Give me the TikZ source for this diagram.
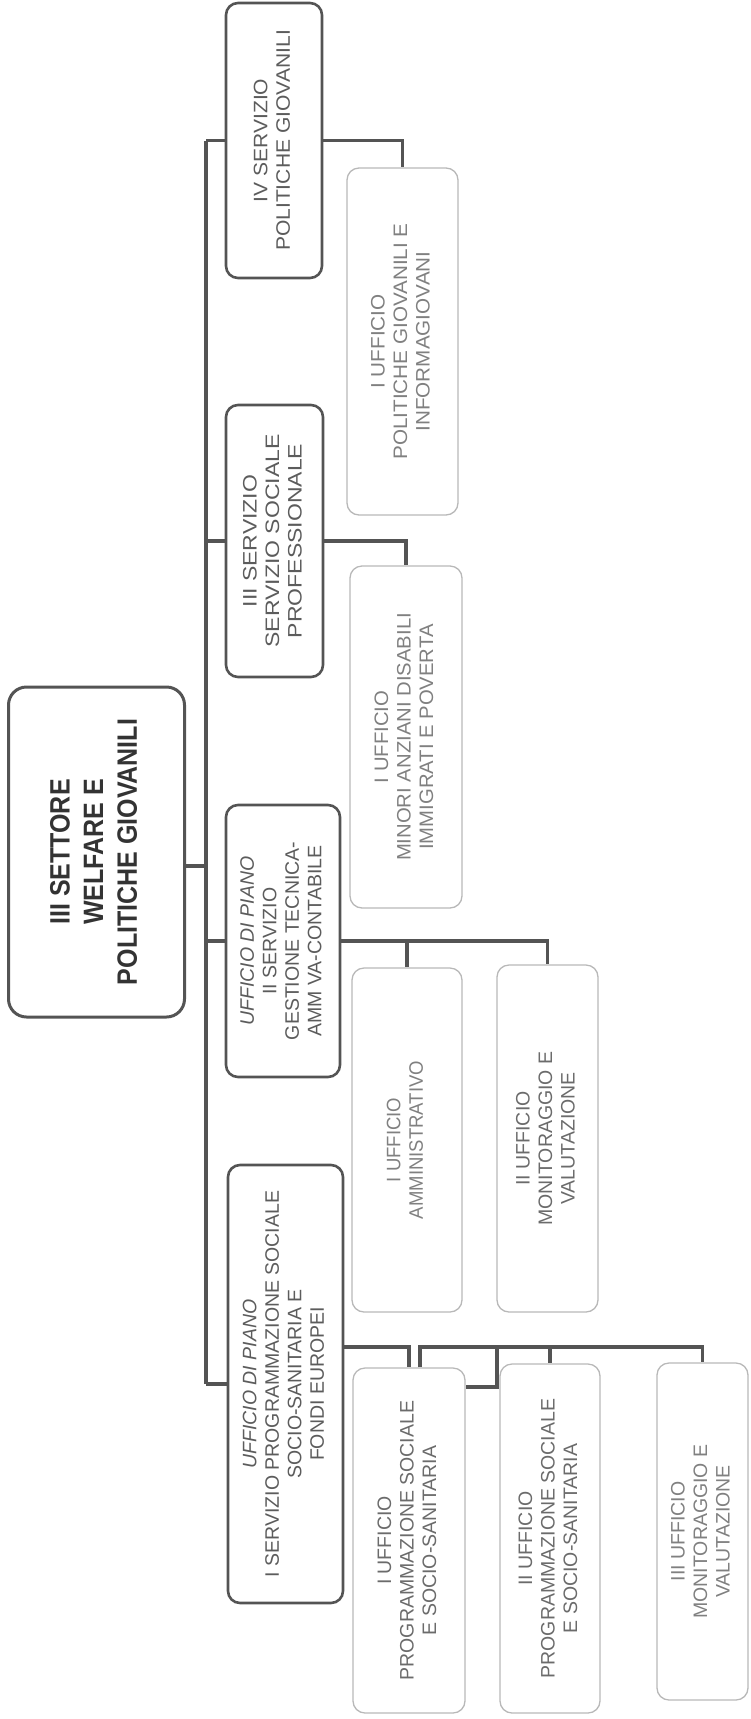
\documentclass[tikz,border=0pt]{standalone}
\usepackage{fontspec}
\setmainfont{Liberation Sans}
\usepackage{graphicx}

% text set bottom-to-top inside an upright box; optional argument stretches the lines
\newcommand\vtext[2][1]{\rotatebox{90}{\scalebox{#1}[1]{\begin{tabular}{@{}c@{}}#2\end{tabular}}}}
% heading text, a little taller across the lines
\newcommand\headtext[1]{\rotatebox{90}{\scalebox{1}[1.12]{\begin{tabular}{@{}c@{}}#1\end{tabular}}}}

\definecolor{linedark}{gray}{0.33}
\definecolor{boxlight}{gray}{0.72}
\definecolor{txtdark}{gray}{0.2}
\definecolor{txtmid}{gray}{0.36}
\definecolor{txtsoft}{gray}{0.42}
\definecolor{txtlight}{gray}{0.5}

\tikzset{
  boxsize/.style 2 args={minimum width=#1pt, minimum height=#2pt},
  rootbox/.style={draw=linedark, line width=3pt, rounded corners=18pt, inner sep=0pt,
    text=txtdark, font=\fontsize{25}{30}\selectfont\bfseries},
  servbox/.style={draw=linedark, line width=2.6pt, rounded corners=12pt, inner sep=0pt,
    text=txtmid, font=\fontsize{19.5}{22.5}\selectfont},
  uffbox/.style={draw=boxlight, line width=1.3pt, rounded corners=12pt, inner sep=0pt,
    text=txtsoft, font=\fontsize{19.5}{22.5}\selectfont},
  link/.style={draw=linedark, line width=3.4pt},
}

\begin{document}
\begin{tikzpicture}[x=1pt, y=-1pt]
  \useasboundingbox (0,0) rectangle (751,1719);

  % sector
  \node[rootbox, boxsize={176}{330}] (root) at (96.5,852)
    {\headtext{III SETTORE\\WELFARE E\\POLITICHE GIOVANILI}};

  % services
  \node[servbox, boxsize={96}{275}] (s4) at (274,140.5)
    {\vtext[1.08]{IV SERVIZIO\\POLITICHE GIOVANILI}};
  \node[servbox, boxsize={97}{272}] (s3) at (274.5,541)
    {\vtext[1.18]{III SERVIZIO\\SERVIZIO SOCIALE\\PROFESSIONALE}};
  \node[servbox, boxsize={114}{272}] (s2) at (283,941)
    {\vtext{\textit{UFFICIO DI PIANO}\\II SERVIZIO\\GESTIONE TECNICA-\\AMM VA-CONTABILE}};
  \node[servbox, boxsize={115}{438}] (s1) at (285.5,1384)
    {\vtext{\textit{UFFICIO DI PIANO}\\I SERVIZIO PROGRAMMAZIONE SOCIALE\\SOCIO-SANITARIA E\\FONDI EUROPEI}};

  % offices
  \node[uffbox, boxsize={111}{347}, text=txtlight] (u4a) at (402.5,341.5)
    {\vtext[1.06]{I UFFICIO\\POLITICHE GIOVANILI E\\INFORMAGIOVANI}};
  \node[uffbox, boxsize={112}{342}, text=txtlight] (u3a) at (406,737)
    {\vtext[1.04]{I UFFICIO\\MINORI ANZIANI DISABILI\\IMMIGRATI E POVERTA}};
  \node[uffbox, boxsize={110}{344}, text=txtlight] (u2a) at (407,1140)
    {\vtext[0.95]{I UFFICIO\\AMMINISTRATIVO}};
  \node[uffbox, boxsize={101}{347}] (u2b) at (547.5,1138.5)
    {\vtext{II UFFICIO\\MONITORAGGIO E\\VALUTAZIONE}};
  \node[uffbox, boxsize={112}{345}] (u1a) at (409,1540.5)
    {\vtext{I UFFICIO\\PROGRAMMAZIONE SOCIALE\\E SOCIO-SANITARIA}};
  \node[uffbox, boxsize={100}{349}] (u1b) at (550,1538.5)
    {\vtext{II UFFICIO\\PROGRAMMAZIONE SOCIALE\\E SOCIO-SANITARIA}};
  \node[uffbox, boxsize={91}{337}, text=txtlight] (u1c) at (702.5,1531.5)
    {\vtext{III UFFICIO\\MONITORAGGIO E\\VALUTAZIONE}};

  % trunk and branches to the services
  \coordinate (trunk) at (206,0);
  \coordinate (rootjoin) at (206,866);
  \draw[link] (trunk |- s4.west) -- (trunk |- s1.west);
  \draw[link] (root.east |- rootjoin) -- (rootjoin);
  \foreach \s in {s1,s2,s3,s4}
    \draw[link] (trunk |- \s.west) -- (\s.west);

  % services to offices
  \draw[link] (s4.east) -| (u4a.north);
  \draw[link] (s3.east) -| (u3a.north);
  \draw[link] (s2.east) -| (u2b.north);
  \draw[link] (s2.east -| u2a.north) -- (u2a.north);

  \coordinate (bar1) at (0,1347);
  \coordinate (kink) at (497,1387);
  \draw[link] (s1.east |- bar1) -| (u1a.north);
  \draw[link] ([xshift=11pt]u1a.north) |- (bar1 -| u1c.north) -- (u1c.north);
  \draw[link] (u1b.north |- bar1) -- (u1b.north);
  \draw[link] (kink |- bar1) -- (kink) -- (u1a.east |- kink);
\end{tikzpicture}
\end{document}
